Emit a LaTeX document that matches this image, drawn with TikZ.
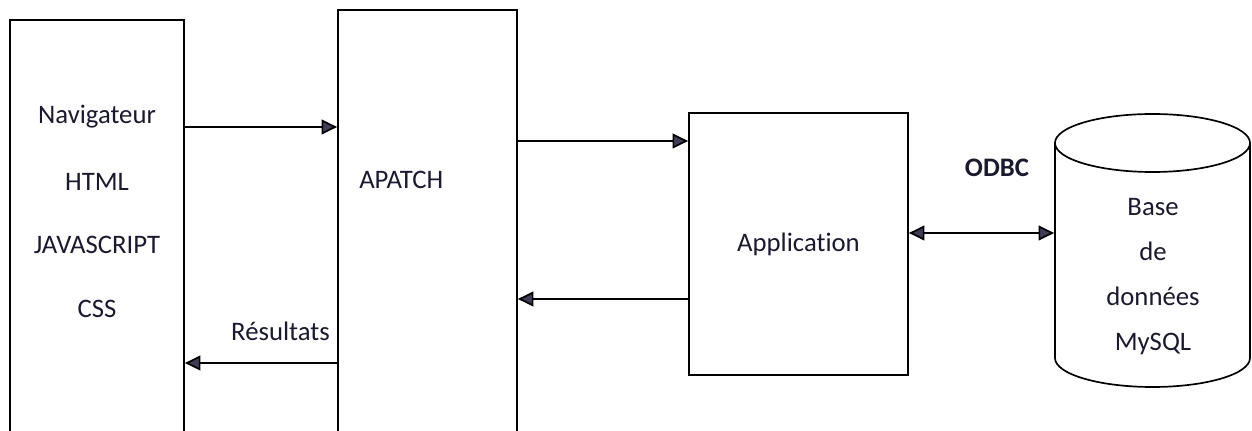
\documentclass[tikz,border=0pt]{standalone}
\usepackage{fontspec}
\setmainfont{Carlito}[Ligatures=NoCommon]
\usepackage{xcolor}
\usetikzlibrary{arrows.meta}
\definecolor{tipgray}{HTML}{403C56}
\definecolor{inkblue}{HTML}{1A1A2E}

\begin{document}
\begin{tikzpicture}[x=0.025cm,y=-0.025cm,font=\fontsize{19}{22}\selectfont,
  line width=1.2pt,
  boxnode/.style={draw,rectangle,inner sep=0pt},
  flow/.style={-{Triangle[length=3.9mm,width=3.7mm,fill=tipgray]}},
  txt/.style={text=inkblue,inner sep=1pt}]

\useasboundingbox (0,0) rectangle (1252,431);
\clip (0,0) rectangle (1252,431);

% ===================== boxes =====================
\node[boxnode,minimum width=4.35cm,minimum height=10.8cm] (browser) at (97,236) {};
\node[boxnode,minimum width=4.475cm,minimum height=11.1cm] (apatch) at (427.5,232) {};
\node[boxnode,minimum width=5.475cm,minimum height=6.55cm,txt] (appli) at (798.5,244) {Application};

% ---- database cylinder ----
\draw (1152.5,143) ellipse [x radius=97.5, y radius=29];
\draw (1055,143) -- (1055,358) arc[start angle=180, end angle=0, x radius=97.5, y radius=29]
  -- (1250,143);
\node[minimum width=4.875cm,minimum height=5.4cm,inner sep=0pt] (mysql) at (1152.5,251.5) {};

% ---- texts ----
\node[txt] (nav)  at (97,117) {Navigateur};
\node[txt] (html) at (97,182) {HTML};
\node[txt] (js)   at (97,245) {JAVASCRIPT};
\node[txt] (css)  at (97,309) {CSS};
\node[txt,anchor=west] (apname) at (357,180) {APATCH};
\node[txt,anchor=east] (res) at (332,331) {Résultats};
\node[txt,font=\fontsize{19}{22}\selectfont\bfseries] (odbc) at (997,168) {ODBC};
\node[txt,align=center,font=\fontsize{19}{32}\selectfont] (dbname) at (1153,277)
  {Base\\de\\données\\MySQL};

% ===================== arrows =====================
\coordinate (r1) at (0,127);
\coordinate (r2) at (0,363);
\coordinate (r3) at (0,141);
\coordinate (r4) at (0,299);
\coordinate (r5) at (0,233);
\draw[flow] (browser.east |- r1) -- (apatch.west |- r1);
\draw[flow] (apatch.west |- r2) -- (browser.east |- r2);
\draw[flow] (apatch.east |- r3) -- (appli.west |- r3);
\draw[flow] (appli.west |- r4) -- (apatch.east |- r4);
\draw[{Triangle[length=3.9mm,width=3.7mm,fill=tipgray]}-{Triangle[length=3.9mm,width=3.7mm,fill=tipgray]}]
  (appli.east |- r5) -- (mysql.west |- r5);

\end{tikzpicture}
\end{document}
